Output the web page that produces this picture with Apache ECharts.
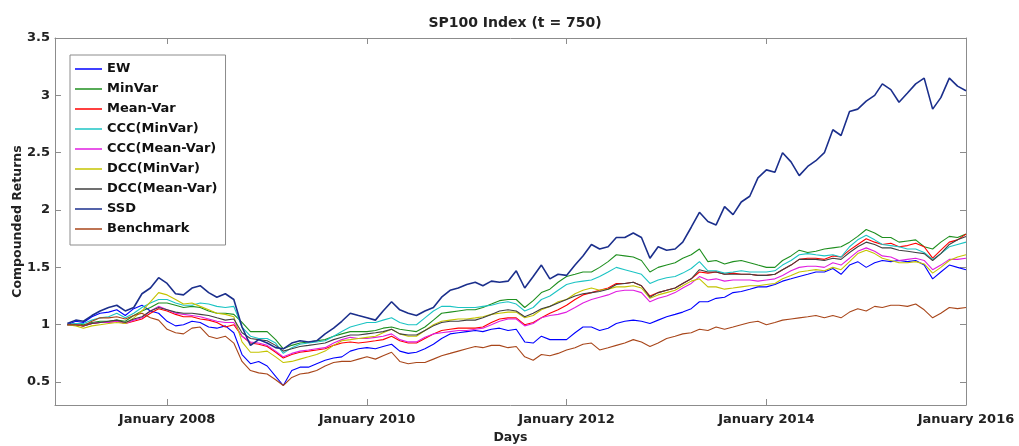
<!DOCTYPE html>
<html>
<head>
<meta charset="utf-8">
<script src="https://cdn.jsdelivr.net/npm/echarts@6/dist/echarts.min.js"></script>
<style>
  html, body { margin: 0; padding: 0; background: #fff; }
  #main { width: 1019px; height: 446px; }
</style>
</head>
<body>
<div id="main"></div>
<script>
// monthly sample dates
var dates = [
  '2007-01-01','2007-02-01','2007-03-01','2007-04-01','2007-05-01','2007-06-01','2007-07-01','2007-08-01','2007-09-01','2007-10-01','2007-11-01','2007-12-01',
  '2008-01-01','2008-02-01','2008-03-01','2008-04-01','2008-05-01','2008-06-01','2008-07-01','2008-08-01','2008-09-01','2008-10-01','2008-11-01','2008-12-01',
  '2009-01-01','2009-02-01','2009-03-01','2009-04-01','2009-05-01','2009-06-01','2009-07-01','2009-08-01','2009-09-01','2009-10-01','2009-11-01','2009-12-01',
  '2010-01-01','2010-02-01','2010-03-01','2010-04-01','2010-05-01','2010-06-01','2010-07-01','2010-08-01','2010-09-01','2010-10-01','2010-11-01','2010-12-01',
  '2011-01-01','2011-02-01','2011-03-01','2011-04-01','2011-05-01','2011-06-01','2011-07-01','2011-08-01','2011-09-01','2011-10-01','2011-11-01','2011-12-01',
  '2012-01-01','2012-02-01','2012-03-01','2012-04-01','2012-05-01','2012-06-01','2012-07-01','2012-08-01','2012-09-01','2012-10-01','2012-11-01','2012-12-01',
  '2013-01-01','2013-02-01','2013-03-01','2013-04-01','2013-05-01','2013-06-01','2013-07-01','2013-08-01','2013-09-01','2013-10-01','2013-11-01','2013-12-01',
  '2014-01-01','2014-02-01','2014-03-01','2014-04-01','2014-05-01','2014-06-01','2014-07-01','2014-08-01','2014-09-01','2014-10-01','2014-11-01','2014-12-01',
  '2015-01-01','2015-02-01','2015-03-01','2015-04-01','2015-05-01','2015-06-01','2015-07-01','2015-08-01','2015-09-01','2015-10-01','2015-11-01','2015-12-01',
  '2016-01-01'
];

var ew = [
  1.00, 1.03, 1.02, 1.07, 1.10, 1.11, 1.13, 1.08, 1.14, 1.17, 1.12, 1.10,
  1.03, 0.99, 1.00, 1.03, 1.02, 0.98, 0.97, 0.99, 0.93, 0.74, 0.66, 0.68,
  0.64, 0.55, 0.47, 0.60, 0.63, 0.63, 0.66, 0.69, 0.71, 0.72, 0.77, 0.79,
  0.80, 0.79, 0.81, 0.83, 0.77, 0.75, 0.76, 0.79, 0.83, 0.88, 0.92, 0.93,
  0.94, 0.95, 0.94, 0.96, 0.97, 0.95, 0.96, 0.85, 0.84, 0.90, 0.87, 0.87,
  0.87, 0.93, 0.98, 0.98, 0.95, 0.97, 1.01, 1.03, 1.04, 1.03, 1.01, 1.04,
  1.07, 1.09, 1.11, 1.14, 1.20, 1.20, 1.23, 1.24, 1.28, 1.29, 1.31, 1.33,
  1.33, 1.35, 1.38, 1.40, 1.42, 1.44, 1.46, 1.46, 1.49, 1.44, 1.52, 1.55,
  1.50, 1.54, 1.56, 1.55, 1.56, 1.55, 1.56, 1.52, 1.40, 1.46, 1.52, 1.50,
  1.48
];
var minVar = [
  1.00, 1.01, 1.00, 1.02, 1.03, 1.03, 1.04, 1.03, 1.08, 1.12, 1.15, 1.19,
  1.19, 1.17, 1.15, 1.16, 1.15, 1.12, 1.10, 1.10, 1.09, 1.02, 0.94, 0.94,
  0.94, 0.87, 0.79, 0.82, 0.84, 0.85, 0.86, 0.87, 0.90, 0.92, 0.94, 0.94,
  0.94, 0.95, 0.97, 0.98, 0.96, 0.95, 0.94, 0.98, 1.04, 1.10, 1.11, 1.12,
  1.13, 1.13, 1.15, 1.18, 1.21, 1.22, 1.22, 1.15, 1.21, 1.28, 1.31, 1.37,
  1.42, 1.44, 1.46, 1.46, 1.50, 1.55, 1.61, 1.60, 1.59, 1.56, 1.46, 1.50,
  1.52, 1.54, 1.58, 1.61, 1.66, 1.55, 1.56, 1.53, 1.55, 1.56, 1.54, 1.52,
  1.50, 1.50, 1.56, 1.60, 1.65, 1.63, 1.64, 1.66, 1.67, 1.68, 1.72, 1.77,
  1.83, 1.80, 1.76, 1.76, 1.72, 1.73, 1.74, 1.68, 1.66, 1.72, 1.77, 1.76,
  1.79
];
var meanVar = [
  1.00, 1.00, 0.99, 1.01, 1.02, 1.02, 1.03, 1.01, 1.03, 1.05, 1.10, 1.14,
  1.12, 1.09, 1.07, 1.07, 1.05, 1.04, 1.02, 0.98, 1.00, 0.90, 0.84, 0.83,
  0.81, 0.76, 0.71, 0.74, 0.76, 0.77, 0.78, 0.79, 0.82, 0.84, 0.85, 0.84,
  0.85, 0.86, 0.87, 0.90, 0.86, 0.84, 0.84, 0.88, 0.92, 0.95, 0.96, 0.97,
  0.97, 0.97, 0.98, 1.02, 1.05, 1.06, 1.06, 1.00, 1.02, 1.06, 1.10, 1.13,
  1.17, 1.22, 1.26, 1.28, 1.30, 1.32, 1.36, 1.36, 1.37, 1.34, 1.25, 1.28,
  1.30, 1.32, 1.36, 1.40, 1.46, 1.45, 1.46, 1.44, 1.45, 1.44, 1.44, 1.43,
  1.43, 1.44, 1.48, 1.52, 1.57, 1.58, 1.58, 1.57, 1.60, 1.59, 1.65, 1.70,
  1.75, 1.72, 1.70, 1.71, 1.68, 1.69, 1.71, 1.68, 1.58, 1.65, 1.72, 1.74,
  1.79
];
var cccMinVar = [
  1.00, 1.01, 1.01, 1.04, 1.06, 1.07, 1.10, 1.06, 1.10, 1.15, 1.19, 1.22,
  1.22, 1.19, 1.17, 1.17, 1.19, 1.18, 1.16, 1.15, 1.16, 0.98, 0.90, 0.88,
  0.88, 0.84, 0.75, 0.80, 0.83, 0.84, 0.85, 0.86, 0.90, 0.94, 0.98, 1.00,
  1.02, 1.02, 1.04, 1.06, 1.02, 1.00, 1.00, 1.06, 1.12, 1.16, 1.16, 1.15,
  1.15, 1.15, 1.16, 1.17, 1.19, 1.20, 1.18, 1.12, 1.15, 1.22, 1.25, 1.30,
  1.35, 1.37, 1.38, 1.39, 1.42, 1.46, 1.50, 1.48, 1.46, 1.44, 1.36, 1.39,
  1.41, 1.42, 1.45, 1.49, 1.55, 1.47, 1.47, 1.45, 1.46, 1.47, 1.46, 1.46,
  1.46, 1.47, 1.52, 1.56, 1.61, 1.62, 1.61, 1.60, 1.61, 1.59, 1.68, 1.74,
  1.78, 1.74, 1.70, 1.69, 1.68, 1.66, 1.66, 1.63, 1.57, 1.62, 1.68, 1.70,
  1.72
];
var cccMeanVar = [
  1.00, 1.00, 0.99, 1.01, 1.02, 1.02, 1.03, 1.01, 1.04, 1.06, 1.12, 1.16,
  1.13, 1.10, 1.09, 1.08, 1.07, 1.05, 1.03, 1.02, 1.02, 0.90, 0.85, 0.84,
  0.82, 0.77, 0.72, 0.75, 0.77, 0.78, 0.79, 0.80, 0.84, 0.87, 0.89, 0.88,
  0.88, 0.89, 0.90, 0.92, 0.87, 0.85, 0.85, 0.89, 0.92, 0.93, 0.94, 0.95,
  0.95, 0.96, 0.97, 1.00, 1.03, 1.05, 1.05, 0.99, 1.01, 1.06, 1.08, 1.09,
  1.11, 1.15, 1.19, 1.22, 1.24, 1.26, 1.29, 1.30, 1.30, 1.28, 1.20, 1.23,
  1.25, 1.28, 1.32, 1.36, 1.42, 1.39, 1.40, 1.38, 1.39, 1.39, 1.39, 1.38,
  1.39, 1.40, 1.43, 1.47, 1.50, 1.51, 1.51, 1.50, 1.54, 1.52, 1.58, 1.64,
  1.67, 1.64, 1.60, 1.59, 1.56, 1.57, 1.58, 1.56, 1.48, 1.52, 1.57, 1.57,
  1.58
];
var dccMinVar = [
  1.00, 0.99, 0.97, 0.99, 1.00, 1.01, 1.02, 1.01, 1.06, 1.12, 1.20, 1.28,
  1.26, 1.22, 1.18, 1.19, 1.16, 1.13, 1.10, 1.09, 1.07, 0.85, 0.76, 0.76,
  0.77, 0.72, 0.67, 0.68, 0.70, 0.72, 0.74, 0.77, 0.82, 0.86, 0.87, 0.88,
  0.89, 0.90, 0.93, 0.96, 0.92, 0.90, 0.90, 0.95, 1.00, 1.03, 1.04, 1.05,
  1.05, 1.06, 1.07, 1.09, 1.10, 1.11, 1.11, 1.06, 1.08, 1.13, 1.16, 1.20,
  1.22, 1.27, 1.30, 1.32, 1.30, 1.31, 1.33, 1.33, 1.34, 1.32, 1.23, 1.26,
  1.28, 1.30, 1.34, 1.38, 1.40, 1.33, 1.33, 1.31, 1.32, 1.33, 1.34, 1.34,
  1.35, 1.36, 1.40, 1.43, 1.46, 1.47, 1.48, 1.47, 1.50, 1.48, 1.55, 1.62,
  1.65, 1.62, 1.58, 1.56, 1.54, 1.54, 1.55, 1.53, 1.45, 1.50, 1.56, 1.59,
  1.61
];
var dccMeanVar = [
  1.00, 1.00, 0.99, 1.01, 1.02, 1.03, 1.04, 1.02, 1.05, 1.07, 1.12, 1.15,
  1.13, 1.11, 1.10, 1.10, 1.09, 1.08, 1.06, 1.04, 1.05, 0.93, 0.88, 0.87,
  0.86, 0.82, 0.77, 0.79, 0.81, 0.82, 0.83, 0.84, 0.87, 0.89, 0.91, 0.91,
  0.92, 0.93, 0.94, 0.96, 0.92, 0.91, 0.91, 0.95, 0.99, 1.02, 1.03, 1.03,
  1.04, 1.04, 1.06, 1.09, 1.12, 1.13, 1.12, 1.07, 1.10, 1.14, 1.16, 1.19,
  1.22, 1.25, 1.27, 1.28, 1.29, 1.31, 1.35, 1.36, 1.37, 1.34, 1.24, 1.28,
  1.30, 1.32, 1.36, 1.40, 1.48, 1.46, 1.46, 1.44, 1.44, 1.44, 1.44, 1.43,
  1.43, 1.44, 1.48, 1.52, 1.57, 1.57, 1.57, 1.56, 1.58, 1.57, 1.63, 1.68,
  1.72, 1.70, 1.67, 1.67, 1.65, 1.64, 1.63, 1.62, 1.56, 1.62, 1.70, 1.74,
  1.77
];
var ssd = [
  1.01, 1.04, 1.03, 1.08, 1.12, 1.15, 1.17, 1.12, 1.15, 1.27, 1.32, 1.41,
  1.36, 1.27, 1.26, 1.32, 1.34, 1.28, 1.24, 1.27, 1.22, 0.98, 0.82, 0.87,
  0.84, 0.80, 0.79, 0.84, 0.86, 0.85, 0.86, 0.92, 0.97, 1.03, 1.10, 1.08,
  1.06, 1.04, 1.12, 1.20, 1.13, 1.10, 1.08, 1.12, 1.15, 1.24, 1.30, 1.32,
  1.35, 1.37, 1.34, 1.38, 1.37, 1.38, 1.47, 1.32, 1.42, 1.52, 1.40, 1.44,
  1.43, 1.52, 1.60, 1.70, 1.66, 1.68, 1.76, 1.76, 1.80, 1.76, 1.58, 1.68,
  1.65, 1.66, 1.72, 1.85, 1.98, 1.90, 1.87, 2.03, 1.96, 2.07, 2.12, 2.28,
  2.35, 2.33, 2.50, 2.42, 2.30, 2.38, 2.43, 2.50, 2.70, 2.65, 2.86, 2.88,
  2.95, 3.00, 3.10, 3.05, 2.94, 3.02, 3.10, 3.15, 2.88, 2.98, 3.15, 3.08,
  3.04
];
var benchmark = [
  1.00, 1.00, 0.99, 1.03, 1.06, 1.06, 1.07, 1.05, 1.08, 1.10, 1.06, 1.04,
  0.96, 0.93, 0.92, 0.97, 0.98, 0.90, 0.88, 0.90, 0.84, 0.68, 0.60, 0.58,
  0.57, 0.52, 0.47, 0.54, 0.57, 0.58, 0.60, 0.64, 0.67, 0.68, 0.68, 0.70,
  0.72, 0.70, 0.73, 0.76, 0.68, 0.66, 0.67, 0.67, 0.70, 0.73, 0.75, 0.77,
  0.79, 0.81, 0.80, 0.82, 0.82, 0.80, 0.81, 0.72, 0.69, 0.74, 0.73, 0.75,
  0.78, 0.80, 0.83, 0.84, 0.78, 0.80, 0.82, 0.84, 0.87, 0.85, 0.81, 0.84,
  0.88, 0.90, 0.92, 0.93, 0.96, 0.95, 0.98, 0.96, 0.98, 1.00, 1.02, 1.03,
  1.00, 1.02, 1.04, 1.05, 1.06, 1.07, 1.08, 1.06, 1.08, 1.06, 1.11, 1.14,
  1.12, 1.16, 1.15, 1.17, 1.17, 1.16, 1.18, 1.13, 1.06, 1.10, 1.15, 1.14,
  1.15
];

var seriesNames = ['EW', 'MinVar', 'Mean-Var', 'CCC(MinVar)', 'CCC(Mean-Var)', 'DCC(MinVar)', 'DCC(Mean-Var)', 'SSD', 'Benchmark'];
var seriesValues = [ew, minVar, meanVar, cccMinVar, cccMeanVar, dccMinVar, dccMeanVar, ssd, benchmark];
var seriesColors = ['#0000ff', '#1f8f1f', '#ff0000', '#1cc4c4', '#e01ee0', '#c4c400', '#404040', '#1b2f8c', '#a8461a'];

var xTickDates = ['2008-01-01', '2010-01-01', '2012-01-01', '2014-01-01', '2016-01-01'];
var xTickLabels = ['January 2008', 'January 2010', 'January 2012', 'January 2014', 'January 2016'];
var yTicks = [0.5, 1, 1.5, 2, 2.5, 3, 3.5];

var FONT = 'DejaVu Sans';
var AXIS_COLOR = '#8c8c8c';

var myChart = echarts.init(document.getElementById('main'), null, {renderer: 'canvas'});

function ts(d) {
    return +echarts.time.parse(d);
}
var xTickVals = xTickDates.map(ts);

function buildSeries() {
    var out = [];
    for (var i = 0; i < seriesNames.length; i++) {
        var vals = seriesValues[i];
        out.push({
            name: seriesNames[i],
            type: 'line',
            symbol: 'none',
            smooth: false,
            z: seriesNames[i] === 'SSD' ? 3 : 2,
            lineStyle: {width: seriesNames[i] === 'SSD' ? 1.6 : 1.1, color: seriesColors[i]},
            itemStyle: {color: seriesColors[i]},
            data: vals.map(function (v, k) { return [ts(dates[k]), v]; })
        });
    }
    return out;
}

// x is a value axis holding timestamps so the ticks can be placed exactly
var xBase = {
    type: 'value',
    min: ts('2006-11-17'),
    max: ts('2016-01-01'),
    splitLine: {show: false},
    axisLine: {show: true, onZero: false, lineStyle: {color: AXIS_COLOR, width: 1}},
    axisTick: {show: true, inside: true, length: 6, customValues: xTickVals, lineStyle: {color: AXIS_COLOR}}
};
var yBase = {
    type: 'value',
    min: 0.3,
    max: 3.5,
    splitLine: {show: false},
    axisLine: {show: true, onZero: false, lineStyle: {color: AXIS_COLOR, width: 1}},
    axisTick: {show: true, inside: true, length: 6, customValues: yTicks, lineStyle: {color: AXIS_COLOR}}
};

myChart.setOption({
    backgroundColor: '#fff',
    animation: false,
    title: {
        text: 'SP100 Index (t = 750)',
        left: 510,
        textAlign: 'center',
        top: 11,
        textStyle: {fontFamily: FONT, fontSize: 14, fontWeight: 'bold', color: '#222'}
    },
    grid: {left: 55, right: 53, top: 38, bottom: 41, containLabel: false, outerBoundsMode: 'none'},
    legend: {
        orient: 'vertical',
        left: 70,
        top: 55,
        data: seriesNames,
        icon: 'rect',
        itemWidth: 27,
        itemHeight: 1.5,
        itemGap: 4,
        padding: [6, 8, 8, 5],
        borderColor: '#8c8c8c',
        borderWidth: 1,
        backgroundColor: '#fff',
        textStyle: {fontFamily: FONT, fontSize: 13, lineHeight: 16, fontWeight: 'bold', color: '#111'}
    },
    xAxis: [
        Object.assign({}, xBase, {
            position: 'bottom',
            name: 'Days',
            nameLocation: 'middle',
            nameGap: 25,
            nameTextStyle: {fontFamily: FONT, fontSize: 12.5, fontWeight: 'bold', color: '#222'},
            axisLabel: {
                show: true,
                customValues: xTickVals,
                margin: 8,
                fontFamily: FONT, fontSize: 13, fontWeight: 'bold', color: '#222',
                formatter: function (val) {
                    var idx = xTickVals.indexOf(+val);
                    return idx >= 0 ? xTickLabels[idx] : '';
                }
            }
        }),
        Object.assign({}, xBase, {position: 'top', axisLabel: {show: false}})
    ],
    yAxis: [
        Object.assign({}, yBase, {
            position: 'left',
            name: 'Compounded Returns',
            nameLocation: 'middle',
            nameGap: 31,
            nameMoveOverlap: false,
            nameTextStyle: {fontFamily: FONT, fontSize: 12.5, fontWeight: 'bold', color: '#222'},
            axisLabel: {
                show: true,
                customValues: yTicks,
                margin: 5,
                fontFamily: FONT, fontSize: 13, fontWeight: 'bold', color: '#222',
                formatter: function (v) { return String(v); }
            }
        }),
        Object.assign({}, yBase, {position: 'right', axisLabel: {show: false}})
    ],
    series: buildSeries()
});
</script>
</body>
</html>
